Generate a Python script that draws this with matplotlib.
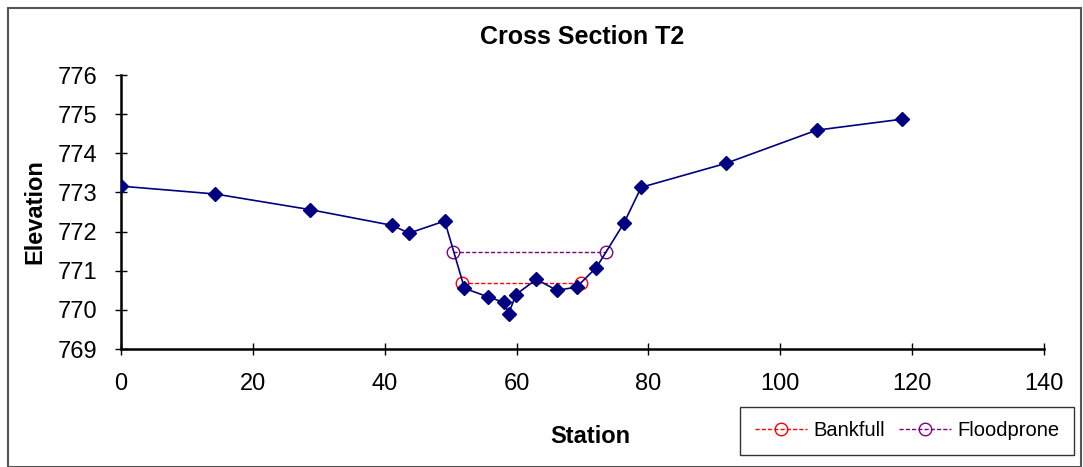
import matplotlib.pyplot as plt
from matplotlib.patches import Rectangle

plt.rcParams['font.family'] = ['Liberation Sans', 'DejaVu Sans']

# surveyed ground profile
station = [0, 14.3, 28.7, 41.1, 43.7, 49.1, 52.1, 55.7, 58.1, 58.8, 59.9,
           63.0, 66.1, 69.1, 72.1, 76.3, 78.9, 91.7, 105.5, 118.4]
elevation = [773.16, 772.96, 772.56, 772.16, 771.96, 772.27, 770.55, 770.33,
             770.19, 769.90, 770.39, 770.78, 770.50, 770.58, 771.08, 772.22,
             773.13, 773.74, 774.59, 774.87]

# bankfull and floodprone lines
bankfull_x = [51.7, 69.7]
bankfull_y = [770.69, 770.69]
flood_x = [50.4, 73.5]
flood_y = [771.47, 771.47]

fig = plt.figure(figsize=(10.83, 4.67), dpi=100)
ax = fig.add_axes([121/1083, 1 - 349/467, (1044 - 121)/1083, (349 - 75)/467])

ax.plot(station, elevation, color='#000080', marker='D', markersize=7,
        linewidth=1.2, zorder=3)
ax.plot(bankfull_x, bankfull_y, color='red', linestyle='--', dashes=(3, 1.5),
        linewidth=1.0, marker='o', markersize=9, markerfacecolor='none',
        markeredgewidth=1.0, label='Bankfull', zorder=2)
ax.plot(flood_x, flood_y, color='#800080', linestyle='--', dashes=(3, 1.5),
        linewidth=1.0, marker='o', markersize=9, markerfacecolor='none',
        markeredgewidth=1.0, label='Floodprone', zorder=2)

ax.set_xlim(0, 140)
ax.set_ylim(769, 776)
ax.set_xticks(range(0, 141, 20))
ax.set_yticks(range(769, 777))
ax.tick_params(labelsize=17, direction='inout', length=8, width=1.0)
ax.tick_params(axis='x', pad=13)
ax.tick_params(axis='y', pad=13)
for s in ['top', 'right']:
    ax.spines[s].set_visible(False)
for s in ['left', 'bottom']:
    ax.spines[s].set_linewidth(1.8)

ax.set_xlabel('Station', fontsize=17, fontweight='bold')
ax.xaxis.set_label_coords((590 - 121) / 923, -(425 - 349) / 274)
ax.set_ylabel('Elevation', fontsize=17, fontweight='bold', labelpad=8)
ax.set_title('Cross Section T2', fontsize=18, fontweight='bold', pad=22)

leg = ax.legend(loc='upper left', bbox_to_anchor=(740/1083, 1 - 407/467),
                bbox_transform=fig.transFigure, borderaxespad=0, ncol=2,
                fontsize=14.5, frameon=True, fancybox=False, edgecolor='black',
                handlelength=2.6, handletextpad=0.3, columnspacing=0.7,
                borderpad=0.72)
leg.get_frame().set_linewidth(1.0)

# outer chart frame
fig.patches.append(Rectangle((8/1083, 0), 1 - 8/1083 - 2/1083, 1 - 8/467,
                             transform=fig.transFigure, fill=False,
                             edgecolor='#555555', linewidth=1.5))

fig.savefig('out.png', dpi=100)
